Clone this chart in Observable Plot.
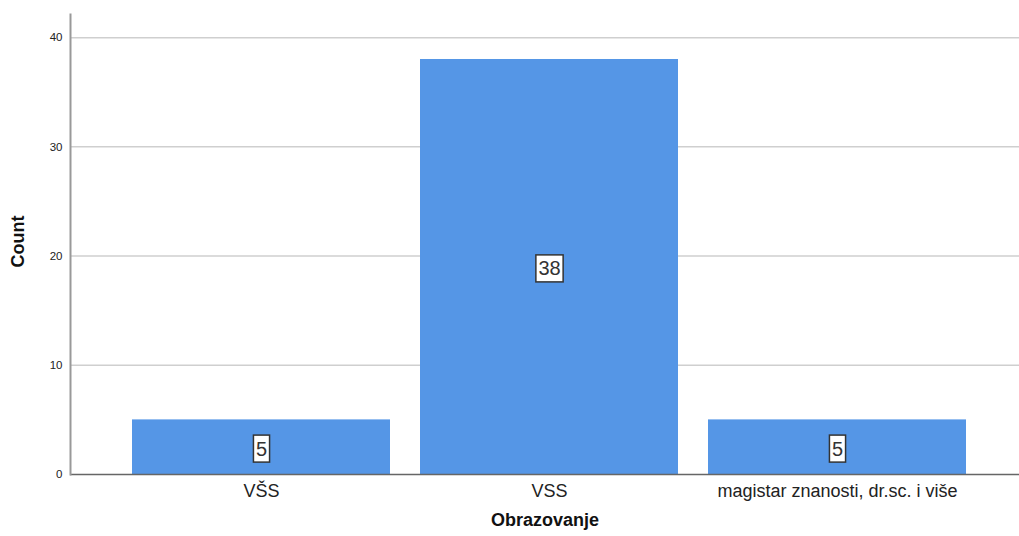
<!DOCTYPE html>
<html>
<head>
<meta charset="utf-8">
<script src="https://cdn.jsdelivr.net/npm/d3@7"></script>
<script src="https://cdn.jsdelivr.net/npm/@observablehq/plot@0.6"></script>
<style>
  html, body { margin: 0; padding: 0; background: #fff; }
  svg { display: block; }
</style>
</head>
<body>
<div id="chart"></div>
<script>
const categories = ["VŠS", "VSS", "magistar znanosti, dr.sc. i više"];
const counts = [5, 38, 5];
const yTicks = [0, 10, 20, 30, 40];
const xTitle = "Obrazovanje";
const yTitle = "Count";

const data = categories.map((c, i) => ({category: c, count: counts[i]}));

const chart = Plot.plot({
  width: 1019,
  height: 536,
  marginTop: 14,
  marginBottom: 62,
  marginLeft: 70,
  marginRight: 0,
  style: {background: "#fff", fontFamily: "'Liberation Sans', Arial, sans-serif"},
  x: {domain: categories, range: [132, 967], paddingInner: 0.104, paddingOuter: 0, label: null},
  y: {domain: [0, 42.12], label: null},
  marks: [
    Plot.gridY(yTicks.filter(d => d > 0), {stroke: "#cfcfcf", strokeOpacity: 1, strokeWidth: 1.5}),
    Plot.barY(data, {x: "category", y: "count", fill: "#5596e6"}),
    Plot.ruleY([0], {stroke: "#666", strokeWidth: 1.5}),
    Plot.frame({anchor: "left", stroke: "#999", strokeWidth: 2}),
    Plot.axisY({ticks: yTicks, tickSize: 0, tickPadding: 8, fontSize: 11.5, label: null, style: {letterSpacing: "0.8px"}, fill: "#222"}),
    Plot.axisX({tickSize: 0, tickPadding: 10, fontSize: 18, label: null, fill: "#222", style: {letterSpacing: "0.5px"}}),
    Plot.text(data, {x: "category", y: d => d.count / 2, text: d => String(d.count), dy: 2, fontSize: 20, fill: "#333", className: "vlabel"}),
    Plot.text([xTitle], {frameAnchor: "bottom", dy: 51, fontSize: 18, fontWeight: "bold", fill: "#111", style: {letterSpacing: "1.2px"}}),
    Plot.text([yTitle], {frameAnchor: "left", dx: -52, dy: 23, rotate: -90, fontSize: 18, fontWeight: "bold", fill: "#111"})
  ]
});

document.getElementById("chart").append(chart);

// white boxes behind value labels
const svgNS = "http://www.w3.org/2000/svg";
chart.querySelectorAll("g.vlabel text").forEach(t => {
  const b = t.getBBox();
  const r = document.createElementNS(svgNS, "rect");
  const padX = 2.5;
  const h = 27;
  const cy = b.y + b.height / 2;
  r.setAttribute("x", b.x - padX);
  r.setAttribute("y", cy - h / 2);
  r.setAttribute("width", b.width + 2 * padX);
  r.setAttribute("height", h);
  r.setAttribute("fill", "#fff");
  r.setAttribute("stroke", "#333");
  r.setAttribute("stroke-width", 1.5);
  const tr = t.getAttribute("transform");
  if (tr) r.setAttribute("transform", tr);
  t.parentNode.insertBefore(r, t);
});
</script>
</body>
</html>
